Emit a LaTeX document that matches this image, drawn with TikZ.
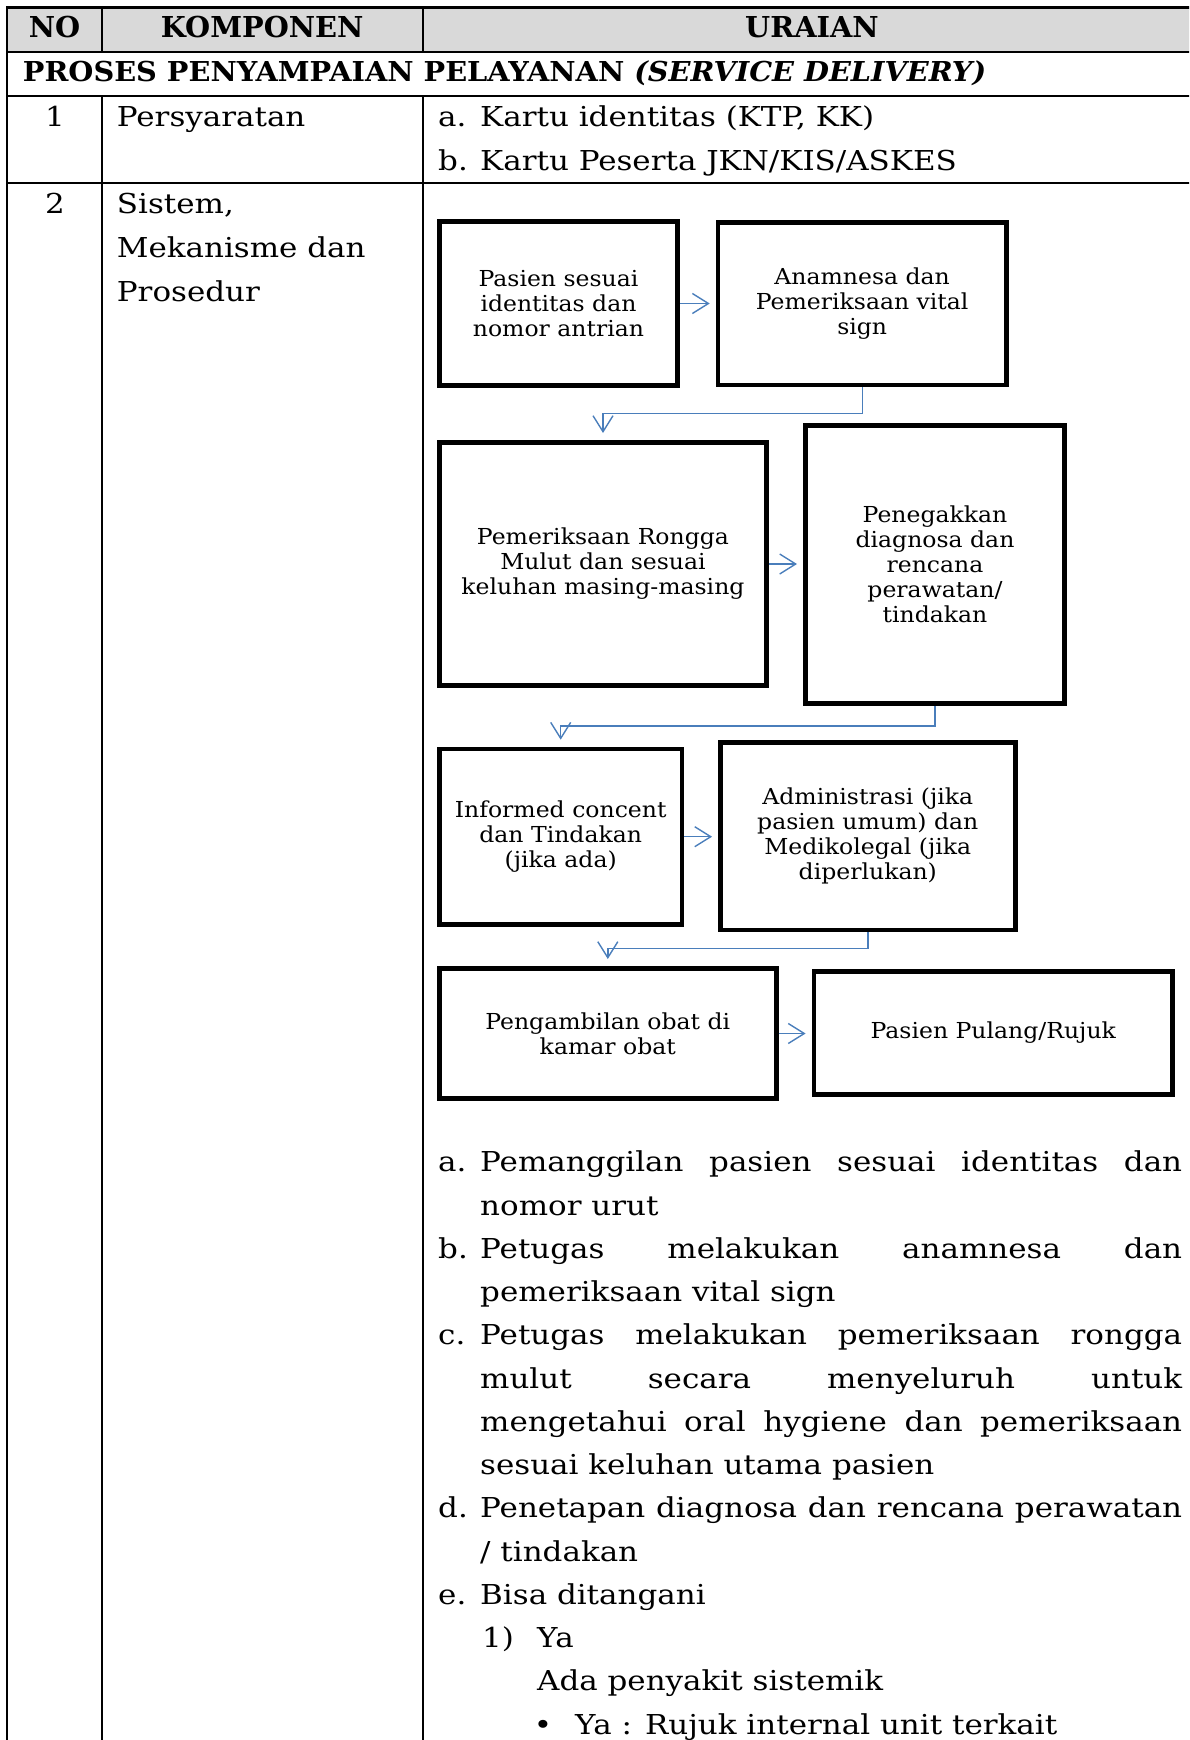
\documentclass[tikz,border=0pt]{standalone}
\usepackage{fontspec}
\setmainfont[FakeStretch=1.13]{DejaVu Serif}
\newfontfamily\hdrfam{DejaVu Serif}
\newfontfamily\secfam[FakeStretch=1.05]{DejaVu Serif}
\newfontfamily\flowfam[FakeStretch=1.07]{DejaVu Serif}
\usetikzlibrary{arrows.meta}
\newcommand\tblfont{\fontsize{27.4}{43.25}\selectfont}
\newcommand\hdrfont{\hdrfam\fontsize{28.8}{43.25}\selectfont\bfseries}
\newcommand\secfont{\secfam\fontsize{27.4}{43.25}\selectfont\bfseries}
\newcommand\flowfont{\flowfam\fontsize{22}{25}\selectfont}
\definecolor{hdrgray}{HTML}{D9D9D9}
\definecolor{connblue}{HTML}{4A7EBB}
\begin{document}
\begin{tikzpicture}[x=1pt,y=-1pt,
  tbl/.style={line width=2pt, line cap=rect},
  txt/.style={anchor=base west, inner sep=0pt, font=\tblfont},
  ctxt/.style={anchor=base, inner sep=0pt, font=\tblfont},
  hdr/.style={anchor=base, inner sep=0pt, font=\hdrfont},
  flowbox/.style={draw, line width=4.6pt, align=center, font=\flowfont, inner sep=0pt},
  conn/.style={draw=connblue, line width=1.4pt,
    -{Straight Barb[length=16pt,width=20pt,line width=1.4pt]}},
  hconn/.style={conn, shorten >=6pt},
  vconn/.style={conn, shorten >=7pt}]
\path[use as bounding box] (0,0) rectangle (1189,1740);
\clip (0,0) rectangle (1189,1740);

% table grid
\fill[hdrgray] (7.3,7.3) rectangle (1211,51.7);
\draw[tbl, line width=2.5pt] (7.3,7.3) -- (1211,7.3);
\draw[tbl] (7.3,51.7) -- (1211,51.7);
\draw[tbl] (7.3,96) -- (1211,96);
\draw[tbl] (7.3,183.3) -- (1211,183.3);
\draw[tbl] (7.3,7.3) -- (7.3,1750);
\draw[tbl] (101.7,7.3) -- (101.7,51.7);
\draw[tbl] (101.7,96) -- (101.7,1750);
\draw[tbl] (422.7,7.3) -- (422.7,51.7);
\draw[tbl] (422.7,96) -- (422.7,1750);
\draw[tbl] (1211,7.3) -- (1211,1750);

% header row and section title
\node[hdr] (hno) at (54.5,37.7) {NO};
\node[hdr] (hkomp) at (262.2,37.7) {KOMPONEN};
\node[hdr] (hur) at (812,37.7) {URAIAN};
\node[txt, font=\secfont] (sec) at (22.7,81.7)
  {PROSES PENYAMPAIAN PELAYANAN \textit{(SERVICE DELIVERY)}};

% row 1
\node[ctxt] (no1) at (55,126.7) {1};
\node[txt] (k1) at (116.7,126.7) {Persyaratan};
\node[txt] (u1a) at (438,126.7) {a.};
\node[txt] (u1at) at (480,126.7) {Kartu identitas (KTP, KK)};
\node[txt] (u1b) at (438,170) {b.};
\node[txt] (u1bt) at (480,170) {Kartu Peserta JKN/KIS/ASKES};

% row 2
\node[ctxt] (no2) at (55,213.3) {2};
\node[txt] (k2a) at (116.7,213.3) {Sistem,};
\node[txt] (k2b) at (116.7,257.7) {Mekanisme dan};
\node[txt] (k2c) at (116.7,301.7) {Prosedur};

% flow of service
\node[flowbox, minimum width=238.4pt, minimum height=164.4pt] (A) at (558.5,303.5)
  {Pasien sesuai\\identitas dan\\nomor antrian};
\node[flowbox, minimum width=288.4pt, minimum height=162.4pt] (B) at (862.2,303.7)
  {Anamnesa dan\\Pemeriksaan vital\\sign};
\node[flowbox, minimum width=327.4pt, minimum height=243.4pt] (C) at (603,564)
  {Pemeriksaan Rongga\\Mulut dan sesuai\\keluhan masing-masing};
\node[flowbox, minimum width=259.4pt, minimum height=278.4pt] (D) at (935,564.5)
  {Penegakkan\\diagnosa dan\\rencana\\perawatan/\\tindakan};
\node[flowbox, minimum width=242.9pt, minimum height=175.4pt] (E) at (560.7,836.7)
  {Informed concent\\dan Tindakan\\(jika ada)};
\node[flowbox, minimum width=294.9pt, minimum height=187.7pt] (F) at (867.8,836.2)
  {Administrasi (jika\\pasien umum) dan\\Medikolegal (jika\\diperlukan)};
\node[flowbox, minimum width=337pt, minimum height=130.4pt] (G) at (607.8,1033.5)
  {Pengambilan obat di\\kamar obat};
\node[flowbox, minimum width=358.8pt, minimum height=123.4pt] (H) at (993.3,1033)
  {Pasien Pulang/Rujuk};

\draw[hconn] (A.east) -- (A.east -| B.west);
\draw[hconn] (C.east) -- (C.east -| D.west);
\draw[hconn] (E.east) -- (E.east -| F.west);
\draw[hconn] (G.east) -- (G.east -| H.west);
\draw[vconn] (B.south) -- ++(0,26.3) -| (C.north);
\draw[vconn] (D.south) -- ++(0,20) -| (E.north);
\draw[vconn] (F.south) -- ++(0,16) -| (G.north);

% steps
\node[txt] (la) at (438,1171.7) {a.};
\node[txt] (ta1) at (480,1171.7) {\makebox[702pt][s]{Pemanggilan pasien sesuai identitas dan}};
\node[txt] (ta2) at (480,1215) {nomor urut};
\node[txt] (lb) at (438,1258.2) {b.};
\node[txt] (tb1) at (480,1258.2) {\makebox[702pt][s]{Petugas melakukan anamnesa dan}};
\node[txt] (tb2) at (480,1301.5) {pemeriksaan vital sign};
\node[txt] (lc) at (438,1344.7) {c.};
\node[txt] (tc1) at (480,1344.7) {\makebox[702pt][s]{Petugas melakukan pemeriksaan rongga}};
\node[txt] (tc2) at (480,1388) {\makebox[702pt][s]{mulut secara menyeluruh untuk}};
\node[txt] (tc3) at (480,1431.2) {\makebox[702pt][s]{mengetahui oral hygiene dan pemeriksaan}};
\node[txt] (tc4) at (480,1474.5) {sesuai keluhan utama pasien};
\node[txt] (ld) at (438,1517.7) {d.};
\node[txt] (td1) at (480,1517.7) {\makebox[702pt][s]{Penetapan diagnosa dan rencana perawatan}};
\node[txt] (td2) at (480,1561) {/ tindakan};
\node[txt] (le) at (438,1604.2) {e.};
\node[txt] (te1) at (480,1604.2) {Bisa ditangani};
\node[txt] (l1) at (482,1647.5) {1)};
\node[txt] (t11) at (537,1647.5) {Ya};
\node[txt] (t12) at (537,1690.7) {Ada penyakit sistemik};
\node[ctxt] (bul) at (543,1734) {•};
\node[txt] (t13) at (575,1734) {Ya : Rujuk internal unit terkait};
\end{tikzpicture}
\end{document}
